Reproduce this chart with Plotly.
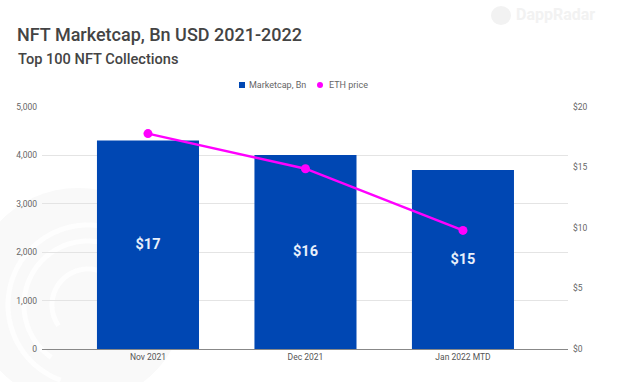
import math
import plotly.graph_objects as go

categories = ["Nov 2021", "Dec 2021", "Jan 2022 MTD"]
marketcap = [4310, 4010, 3700]
eth_price = [17.8, 14.9, 9.8]
bar_labels = ["$17", "$16", "$15"]
left_ticks = [0, 1000, 2000, 3000, 4000, 5000]
right_ticks = [0, 5, 10, 15, 20]
right_tick_labels = ["$0", "$5", "$10", "$15", "$20"]
series_names = ["Marketcap, Bn", "ETH price"]

W, H = 624, 382
L, R, T, B = 42, 56, 107, 33
FONT = "Roboto, Arial, sans-serif"
BLUE = "#0047b3"
MAGENTA = "#ff00ff"


def ppx(x):
    return (x - L) / (W - L - R)


def ppy(y):
    return (H - B - y) / (H - T - B)


def arc(cx, cy, r, a0, a1, n=60):
    pts = []
    for i in range(n + 1):
        a = math.radians(a0 + (a1 - a0) * i / n)
        pts.append((ppx(cx + r * math.cos(a)), ppy(cy - r * math.sin(a))))
    return "M " + " L ".join(f"{x:.5f},{y:.5f}" for x, y in pts)


def label(text, x, y, size, color, weight=400, anchor="left"):
    return dict(text=text, x=ppx(x), y=ppy(y), xref="paper", yref="paper",
                xanchor=anchor, yanchor="middle", showarrow=False,
                font=dict(family=FONT, size=size, color=color, weight=weight))


fig = go.Figure()
fig.add_bar(
    x=categories, y=marketcap, name=series_names[0], marker_color=BLUE,
    marker_line_width=0, width=0.648, text=bar_labels, textposition="inside",
    insidetextanchor="middle", textangle=0,
    textfont=dict(family=FONT, size=14.5, color="#e8f0fb", weight=700),
    yaxis="y", hoverinfo="skip",
)
fig.add_scatter(
    x=categories, y=eth_price, mode="lines+markers", name=series_names[1], yaxis="y2",
    line=dict(color=MAGENTA, width=2.5), marker=dict(color=MAGENTA, size=9),
    hoverinfo="skip",
)

# faint watermark behind the chart
shapes = [dict(type="path", xref="paper", yref="paper", layer="below",
               path=arc(78, 296, 108, 0, 360) + " Z",
               fillcolor="#f9f9f9", line_width=0)]
for r, a0, a1 in [(80, 60, 250), (64, 60, 235), (36, 30, 215)]:
    shapes.append(dict(type="path", xref="paper", yref="paper", layer="below",
                       path=arc(88, 305, r, a0, a1),
                       line=dict(color="#fefefe", width=5)))
shapes.append(dict(type="circle", xref="paper", yref="paper", layer="below",
                   x0=ppx(491), x1=ppx(511), y0=ppy(25), y1=ppy(6),
                   fillcolor="#f2f2f2", line_width=0))

# legend keys
shapes.append(dict(type="rect", xref="paper", yref="paper",
                   x0=ppx(239), x1=ppx(245), y0=ppy(88), y1=ppy(82),
                   fillcolor=BLUE, line_width=0))
shapes.append(dict(type="circle", xref="paper", yref="paper",
                   x0=ppx(317), x1=ppx(323), y0=ppy(88), y1=ppy(82),
                   fillcolor=MAGENTA, line_width=0))

annotations = [
    label("NFT Marketcap, Bn USD 2021-2022", 15, 34, 18, "#444444", 500),
    label("Top 100 NFT Collections", 16, 59, 14.6, "#444444", 500),
    label("DappRadar", 514, 15, 16, "#f2f2f2", 700),
    label(series_names[0], 247, 85, 9, "#666666"),
    label(series_names[1], 327, 85, 9, "#666666"),
]

fig.update_layout(
    width=W, height=H, autosize=False,
    margin=dict(l=L, r=R, t=T, b=B, autoexpand=False),
    paper_bgcolor="#ffffff", plot_bgcolor="rgba(0,0,0,0)",
    font=dict(family=FONT, size=9, color="#666666"),
    showlegend=False,
    xaxis=dict(type="category", categoryorder="array", categoryarray=categories,
               range=[-0.673, 2.667], showgrid=False, showline=True, linecolor="#888888",
               linewidth=1, ticks="", tickfont=dict(size=8.5, color="#555555")),
    yaxis=dict(range=[0, 5000], tickvals=left_ticks, tickformat=",d", showgrid=True,
               gridcolor="#e4e4e4", gridwidth=1, zeroline=False, showline=False, ticks="",
               ticklabelstandoff=4, tickfont=dict(size=8.5, color="#666666")),
    yaxis2=dict(range=[0, 20], overlaying="y", side="right", tickvals=right_ticks,
                ticktext=right_tick_labels, showgrid=False, zeroline=False,
                showline=False, ticks="", ticklabelstandoff=4,
                tickfont=dict(size=8.5, color="#666666")),
    shapes=shapes, annotations=annotations,
)
fig.write_html("out.html", post_script="document.body.style.margin='0';",
               config={"displayModeBar": False})
